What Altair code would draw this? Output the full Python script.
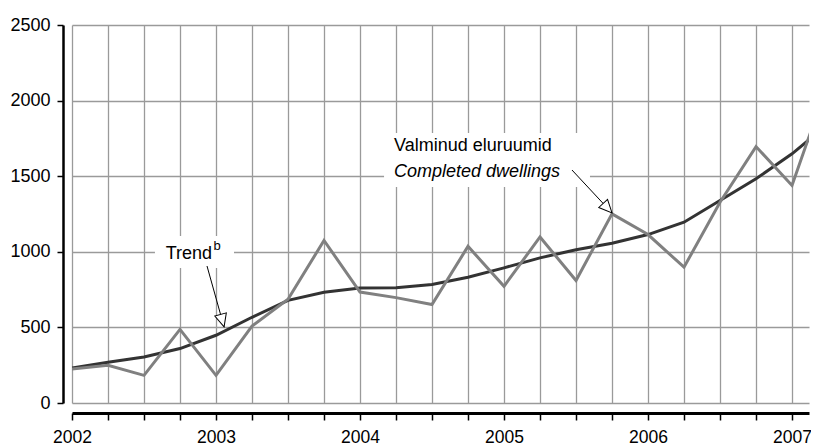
import altair as alt
import pandas as pd

# ---- data ----
quarters = [2002.0, 2002.25, 2002.5, 2002.75, 2003.0, 2003.25, 2003.5, 2003.75,
            2004.0, 2004.25, 2004.5, 2004.75, 2005.0, 2005.25, 2005.5, 2005.75,
            2006.0, 2006.25, 2006.5, 2006.75, 2007.0, 2007.25]
completed = [225, 250, 183, 487, 183, 509, 686, 1075,
             734, 697, 651, 1036, 772, 1098, 810, 1251,
             1114, 898, 1328, 1696, 1439, 2120]
trend = [231, 270, 304, 360, 448, 567, 679, 733,
         760, 762, 784, 832, 894, 960, 1013, 1057,
         1114, 1196, 1339, 1483, 1648, 1846]
year_ticks = [2002, 2003, 2004, 2005, 2006, 2007]
y_ticks = [0, 500, 1000, 1500, 2000, 2500]

# annotation texts (anchor in data units)
ann_text = ["Trend", "b", "Valminud eluruumid", "Completed dwellings"]
ann_x = [2002.651, 2002.983, 2004.236, 2004.236]
ann_y = [985, 1040, 1702, 1530]
ann_size = [18, 13, 18, 18]
ann_italic = [False, False, False, True]

# white label boxes
box_x = [2002.576, 2004.167]
box_x2 = [2003.125, 2005.597]
box_y = [893, 1429]
box_y2 = [1104, 1786]

# arrows: start -> tip
arr_x = [2002.9375, 2005.472]
arr_y = [906, 1541]
arr_x2 = [2003.056, 2005.75]
arr_y2 = [503, 1257]
arr_angle = [164.4, 137.1]

FONT = "Liberation Sans"

df = pd.DataFrame({"q": quarters, "completed": completed, "trend": trend})
ann = pd.DataFrame({"t": ann_text, "x": ann_x, "y": ann_y, "s": ann_size, "it": ann_italic})
boxes = pd.DataFrame({"x": box_x, "x2": box_x2, "y": box_y, "y2": box_y2})
arrows = pd.DataFrame({"x": arr_x, "y": arr_y, "x2": arr_x2, "y2": arr_y2, "a": arr_angle})

xs = alt.Scale(domain=[2002, 2007.118], nice=False, zero=False)
ys = alt.Scale(domain=[0, 2500], nice=False)

x_axis = alt.Axis(
    values=quarters, labelExpr="datum.value % 1 == 0 ? toString(datum.value) : ''",
    tickSize=7, tickWidth=1.5, tickColor="black", domainColor="black", domainWidth=3,
    offset=10, grid=True, gridColor="#9a9a9a", gridWidth=1.3,
    labelFontSize=17.5, labelFont=FONT, labelColor="black", labelPadding=8,
    labelFlush=False, labelOverlap=False, title=None)
y_axis = alt.Axis(
    values=y_ticks, format="d", tickSize=6, tickWidth=1.5, tickColor="black", domainColor="black",
    domainWidth=2.5, offset=9, grid=True, gridColor="#9a9a9a", gridWidth=1.3,
    labelFontSize=18, labelFont=FONT, labelColor="black", labelPadding=7,
    labelFlush=False, labelOverlap=False, title=None)


def X(f):
    return alt.X(f, type="quantitative", scale=xs, axis=x_axis)


def Y(f):
    return alt.Y(f, type="quantitative", scale=ys, axis=y_axis)


base = alt.Chart(df)

grey_line = base.mark_line(color="#808080", strokeWidth=3, clip=True).encode(
    x=X("q"), y=Y("completed"),
)
trend_line = base.mark_line(color="#333333", strokeWidth=3, clip=True).encode(
    x=X("q"), y=Y("trend"),
)

box_layer = alt.Chart(boxes).mark_rect(fill="white").encode(
    x=X("x"), x2="x2:Q", y=Y("y"), y2="y2:Q",
)

arrow_lines = alt.Chart(arrows).mark_rule(color="black", strokeWidth=1).encode(
    x=X("x"), x2="x2:Q", y=Y("y"), y2="y2:Q",
)
arrow_heads = alt.Chart(arrows).mark_point(
    shape="M0,0L-0.46,1L0.46,1Z", size=676, filled=True, fill="white",
    stroke="black", strokeWidth=1, opacity=1).encode(
    x=X("x2"), y=Y("y2"),
    angle=alt.Angle("a:Q", scale=None),
)


def text_layer(italic):
    return alt.Chart(ann).transform_filter(
        alt.datum.it == italic
    ).mark_text(align="left", baseline="middle", font=FONT, color="black",
                fontStyle="italic" if italic else "normal").encode(
        x=X("x"), y=Y("y"),
        text="t:N",
        size=alt.Size("s:Q", scale=None),
    )


chart = alt.layer(box_layer, trend_line, grey_line, arrow_lines, arrow_heads,
                  text_layer(False), text_layer(True)).properties(
    width=737, height=378,
    autosize=alt.AutoSizeParams(type="none"),
    padding={"left": 64, "top": 17, "right": 2, "bottom": 50},
    background="white",
).configure_view(stroke=None)

chart.save("out.html", embed_options={"renderer": "svg", "actions": False})
